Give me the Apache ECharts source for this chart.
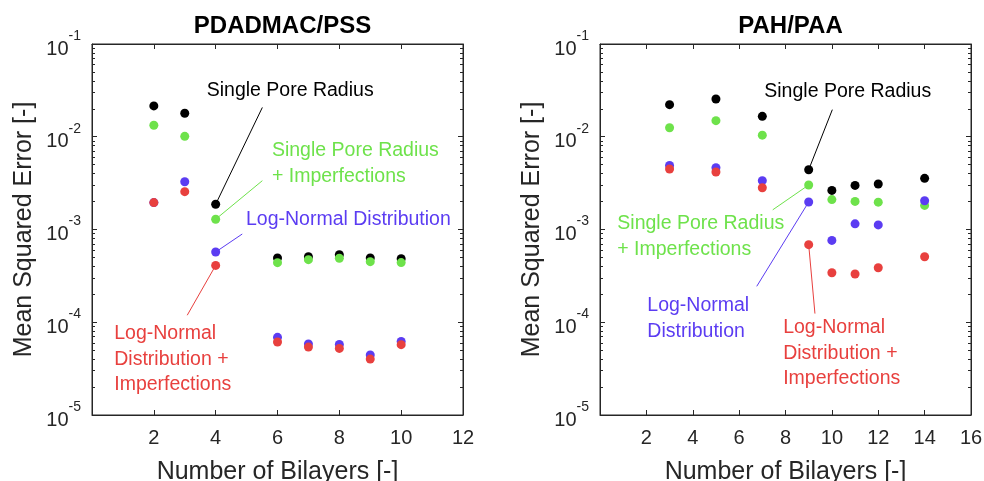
<!DOCTYPE html>
<html><head><meta charset="utf-8">
<script src="https://cdn.jsdelivr.net/npm/echarts@6/dist/echarts.min.js"></script>
<style>html,body{margin:0;padding:0;background:#fff}#c{width:984px;height:481px}</style>
</head><body><div id="c"></div>
<script>
const FONT = '"Liberation Sans", Arial, Helvetica, sans-serif';
const AX = '#262626';
const titles = ['PDADMAC/PSS', 'PAH/PAA'];
const xMaxes = [12, 16];
const xTitle = 'Number of Bilayers [-]';
const yTitle = 'Mean Squared Error [-]';
const seriesNames = ['Single Pore Radius', 'Single Pore Radius + Imperfections', 'Log-Normal Distribution', 'Log-Normal Distribution + Imperfections'];
const colors = ['#000000', '#6ee24b', '#5b3cf2', '#e8403e'];

// PDADMAC/PSS
const xLeft = [2, 3, 4, 6, 7, 8, 9, 10];
const leftSingle = [0.0215, 0.0179, 0.00187, 4.93e-4, 5.09e-4, 5.35e-4, 4.93e-4, 4.85e-4];
const leftSingleImp = [0.0133, 0.0101, 0.00129, 4.39e-4, 4.73e-4, 4.90e-4, 4.50e-4, 4.40e-4];
const leftLogNormal = [0.00195, 0.00327, 5.72e-4, 6.87e-5, 5.82e-5, 5.75e-5, 4.43e-5, 6.22e-5];
const leftLogNormalImp = [0.00195, 0.00256, 4.10e-4, 6.12e-5, 5.40e-5, 5.22e-5, 4.01e-5, 5.73e-5];

// PAH/PAA
const xRight = [3, 5, 7, 9, 10, 11, 12, 14];
const rightSingle = [0.0222, 0.0255, 0.0166, 0.00441, 0.00264, 0.00299, 0.00309, 0.00356];
const rightSingleImp = [0.0125, 0.0149, 0.0104, 0.00302, 0.00210, 0.00201, 0.00197, 0.00182];
const rightLogNormal = [0.00491, 0.00463, 0.00336, 0.00198, 7.63e-4, 0.00115, 0.00112, 0.00204];
const rightLogNormalImp = [0.00449, 0.00417, 0.00282, 6.86e-4, 3.42e-4, 3.31e-4, 3.87e-4, 5.09e-4];

// annotation leader lines: [from point, to text] in data coordinates
const leftLeaders = [[[4, 0.00187], [5.51, 0.0207]], [[4, 0.00129], [5.51, 0.00336]], [[4, 5.72e-4], [4.86, 8.94e-4]], [[4, 4.10e-4], [3.08, 1.19e-4]]];
const rightLeaders = [[[9, 0.00441], [10.02, 0.0196]], [[9, 0.00302], [7.45, 0.00163]], [[9, 0.00198], [6.76, 2.44e-4]], [[9, 6.86e-4], [9.27, 1.24e-4]]];

// annotation texts: grid, series index, anchor (left edge, first line middle), text
const annotations = [
  [0, 0, 3.71, 0.03136, 'Single Pore Radius'],
  [0, 1, 5.82, 7.08e-3, 'Single Pore Radius\n+ Imperfections'],
  [0, 2, 4.98, 1.276e-3, 'Log-Normal Distribution'],
  [0, 3, 0.72, 7.53e-5, 'Log-Normal\nDistribution +\nImperfections'],
  [1, 0, 7.085, 0.0308, 'Single Pore Radius'],
  [1, 1, 0.746, 1.146e-3, 'Single Pore Radius\n+ Imperfections'],
  [1, 2, 2.04, 1.51e-4, 'Log-Normal\nDistribution'],
  [1, 3, 7.90, 8.67e-5, 'Log-Normal\nDistribution +\nImperfections']
];

const minorLog = [];
for (let n = -5; n < -1; n++) for (let k = 2; k <= 9; k++) minorLog.push(n + Math.log10(k));

const panels = [
  {x: xLeft, ys: [leftSingle, leftSingleImp, leftLogNormal, leftLogNormalImp], leaders: leftLeaders},
  {x: xRight, ys: [rightSingle, rightSingleImp, rightLogNormal, rightLogNormalImp], leaders: rightLeaders}
];

const grids = [
  {left: 92, right: 521, top: 44, bottom: 66, show: true, borderColor: AX, borderWidth: 1, backgroundColor: 'rgba(0,0,0,0)', outerBoundsMode: 'none', containLabel: false},
  {left: 600, right: 13, top: 44, bottom: 66, show: true, borderColor: AX, borderWidth: 1, backgroundColor: 'rgba(0,0,0,0)', outerBoundsMode: 'none', containLabel: false}
];

const mkLine = () => ({show: true, onZero: false, lineStyle: {color: AX, width: 1}});
const mkTick = len => ({show: true, inside: true, length: len, lineStyle: {color: AX, width: 1}});

const xAxes = [], yAxes = [], series = [], titleOpts = [];
grids.forEach((g, gi) => {
  ['bottom', 'top'].forEach(pos => {
    xAxes.push({type: 'value', gridIndex: gi, position: pos, min: 0, max: xMaxes[gi], interval: 2,
      splitLine: {show: false}, axisLine: mkLine(), axisTick: mkTick(5),
      axisLabel: pos === 'bottom'
        ? {formatter: v => v === 0 ? '' : String(v), fontSize: 20, color: AX, fontFamily: FONT, margin: 13}
        : {show: false},
      name: pos === 'bottom' ? xTitle : '', nameLocation: 'middle', nameGap: 45,
      nameTextStyle: {fontSize: 25, color: AX, fontFamily: FONT}});
  });
  ['left', 'right'].forEach(pos => {
    yAxes.push({type: 'log', logBase: 10, gridIndex: gi, position: pos, min: 1e-5, max: 1e-1,
      splitLine: {show: false}, axisLine: mkLine(), axisTick: mkTick(5),
      axisLabel: pos === 'left' ? {margin: 11, formatter: v => '{b|10}{s|' + Math.round(Math.log10(v)) + '}',
        rich: {b: {fontSize: 20, fontFamily: FONT, color: AX, lineHeight: 30, verticalAlign: 'bottom'},
               s: {fontSize: 14, fontFamily: FONT, color: AX, lineHeight: 30, verticalAlign: 'top'}}} : {show: false},
      name: pos === 'left' ? yTitle : '', nameLocation: 'middle', nameGap: 55,
      nameTextStyle: {fontSize: 25, color: AX, fontFamily: FONT}});
  });
  // minor log ticks on axes in log10 space
  ['left', 'right'].forEach(pos => yAxes.push({type: 'value', gridIndex: gi, position: pos, min: -5, max: -1,
    axisLine: {show: false, onZero: false}, splitLine: {show: false}, axisLabel: {show: false},
    axisTick: Object.assign(mkTick(3), {customValues: minorLog})}));
  titleOpts.push({text: titles[gi], left: (g.left + (984 - g.right)) / 2, textAlign: 'center', top: 9,
    textStyle: {fontSize: 24, fontWeight: 'bold', color: '#000', fontFamily: FONT}});
  const p = panels[gi];
  [0, 2, 1, 3].forEach(si => {
    series.push({type: 'scatter', name: seriesNames[si], xAxisIndex: gi * 2, yAxisIndex: gi * 4,
      symbol: 'circle', symbolSize: 9, itemStyle: {color: colors[si], opacity: 1},
      data: p.x.map((xv, i) => [xv, p.ys[si][i]]), z: 3 + si,
      markLine: {silent: true, symbol: ['none', 'none'], animation: false, label: {show: false},
        lineStyle: {color: colors[si], width: 1, type: 'solid'}, z: 2,
        data: [[{coord: p.leaders[si][0]}, {coord: p.leaders[si][1]}]]}
    });
  });
});

const chart = echarts.init(document.getElementById('c'));
chart.setOption({animation: false, backgroundColor: '#fff', title: titleOpts, grid: grids,
  xAxis: xAxes, yAxis: yAxes, series: series});

const LH = 25.5;
chart.setOption({graphic: annotations.map(a => {
  const pt = chart.convertToPixel({gridIndex: a[0]}, [a[2], a[3]]);
  return {type: 'text', x: pt[0], y: pt[1] - LH / 2, silent: true,
    style: {text: a[4], fill: colors[a[1]], fontSize: 19.5, fontFamily: FONT, lineHeight: LH,
      align: 'left', verticalAlign: 'top'}};
})});
</script></body></html>
